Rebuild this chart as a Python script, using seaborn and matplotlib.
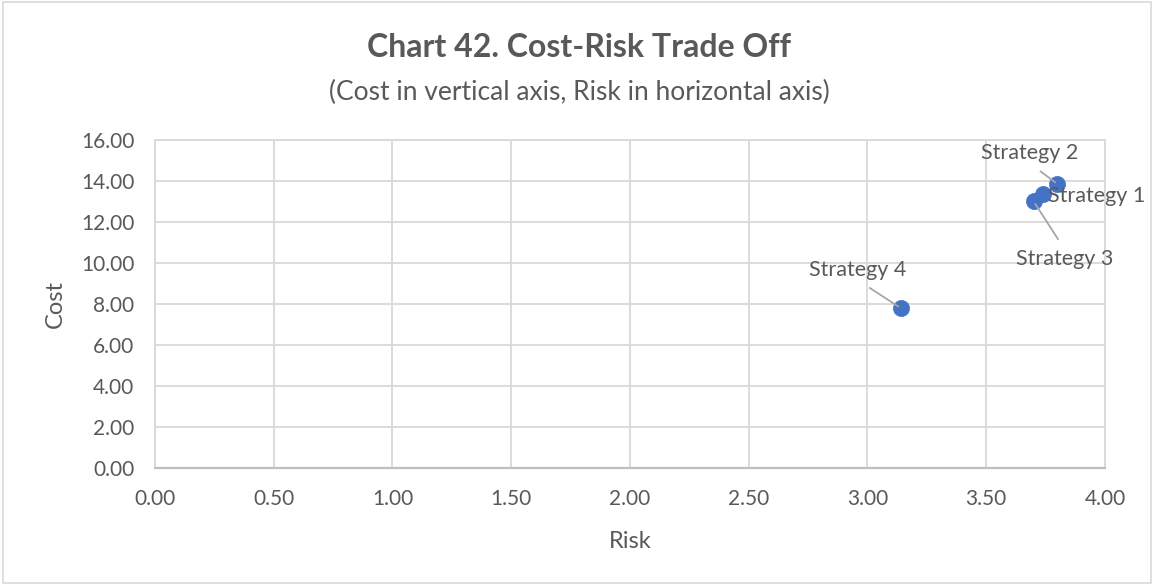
import matplotlib
matplotlib.use("Agg")
import matplotlib.pyplot as plt
import seaborn as sns
import pandas as pd
from matplotlib.patches import Rectangle

# data
strategies = ["Strategy 1", "Strategy 2", "Strategy 3", "Strategy 4"]
risk = [3.74, 3.80, 3.70, 3.14]
cost = [13.35, 13.85, 13.00, 7.80]

df = pd.DataFrame({"Strategy": strategies, "Risk": risk, "Cost": cost})

sns.set_theme(style="white")
plt.rcParams["font.family"] = ["Lato", "DejaVu Sans"]

TEXT = "#595959"
GRID = "#D9D9D9"
BLUE = "#4472C4"

fig = plt.figure(figsize=(11.54, 5.85), dpi=100)
ax = fig.add_axes([0.1343, 0.2, 0.9575 - 0.1343, 0.7607 - 0.2])

sns.scatterplot(
    data=df, x="Risk", y="Cost",
    color=BLUE, s=135, edgecolor=BLUE, linewidth=0.5,
    ax=ax, zorder=3
)

ax.set_xlim(0, 4)
ax.set_ylim(0, 16)
ax.set_xticks([i * 0.5 for i in range(9)])
ax.set_yticks([i * 2 for i in range(9)])
ax.set_xticklabels([f"{i * 0.5:.2f}" for i in range(9)])
ax.set_yticklabels([f"{i * 2:.2f}" for i in range(9)])
ax.tick_params(length=0, labelsize=15, colors=TEXT)
ax.tick_params(axis="x", pad=15)
ax.tick_params(axis="y", pad=15)
ax.grid(True, color=GRID, linewidth=1.3)
for side in ["top", "right", "left"]:
    ax.spines[side].set_color(GRID)
    ax.spines[side].set_linewidth(1.3)
ax.spines["bottom"].set_color("#BFBFBF")
ax.spines["bottom"].set_linewidth(1.6)

ax.set_xlabel("Risk", fontsize=17, color=TEXT, labelpad=16)
ax.set_ylabel("Cost", fontsize=17, color=TEXT, labelpad=11)

# data labels with leader lines (offsets in pixels)
label_offsets = {
    "Strategy 1": (53, -2, None),
    "Strategy 2": (-28, 31, (0.5, 0.0)),
    "Strategy 3": (31, -58, (0.5, 1.0)),
    "Strategy 4": (-43, 38, (0.5, 0.0)),
}
for name, x, y in zip(strategies, risk, cost):
    dx, dy, rel = label_offsets[name]
    arrow = None
    if rel is not None:
        arrow = dict(arrowstyle="-", color="#A6A6A6", lw=1.3,
                     shrinkA=6, shrinkB=2, relpos=rel)
    ax.annotate(name, xy=(x, y), xytext=(dx, dy), textcoords="offset pixels",
                ha="center", va="center", fontsize=15.5, color=TEXT,
                arrowprops=arrow, zorder=4)

fig.text(0.502, 0.918, "Chart 42. Cost-Risk Trade Off", ha="center", va="center",
         fontsize=23, fontweight="bold", color=TEXT)
fig.text(0.502, 0.842, "(Cost in vertical axis, Risk in horizontal axis)",
         ha="center", va="center", fontsize=19, color=TEXT)

fig.patches.append(Rectangle((0.003, 0.003), 0.994, 0.994, transform=fig.transFigure,
                             fill=False, edgecolor="#D9D9D9", linewidth=1.2))

fig.savefig("out.png", dpi=100, facecolor="white")
